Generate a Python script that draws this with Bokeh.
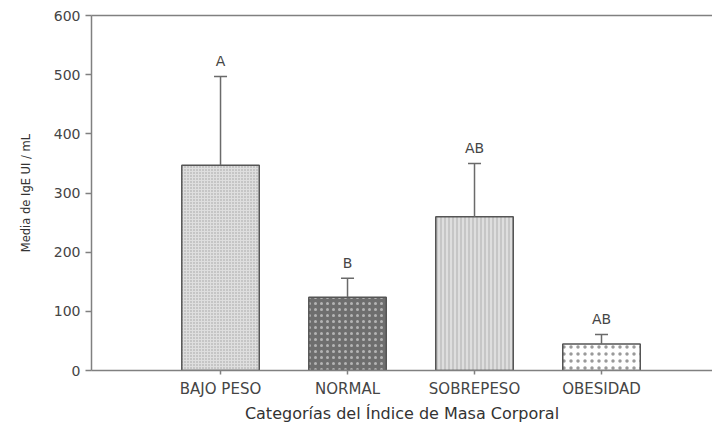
from bokeh.plotting import figure
from bokeh.models import ColumnDataSource, Range1d, Whisker, TeeHead, LinearAxis, FixedTicker
from bokeh.core.properties import value
from bokeh.embed import file_html
from bokeh.resources import INLINE

categories = ["BAJO PESO", "NORMAL", "SOBREPESO", "OBESIDAD"]
means = [347, 124, 260, 45]
errors = [150, 32, 90, 16]
letters = ["A", "B", "AB", "AB"]
y_ticks = [0, 100, 200, 300, 400, 500, 600]

fills = ["#dedede", "#6e6e6e", "#c6c6c6", "#ffffff"]
hatches = [".", ".", "|", "."]
hatch_colors = ["#a0a0a0", "#b4b4b4", "#e6e6e6", "#9a9a9a"]
hatch_scales = [3, 6, 4, 7]
hatch_weights = [1, 2.5, 1.5, 2]

xs = list(range(1, len(categories) + 1))
tops = [m + e for m, e in zip(means, errors)]

src = ColumnDataSource(dict(
    x=xs, top=means, upper=tops, letter=letters,
    fill=fills, hatch=hatches, hcol=hatch_colors, hscale=hatch_scales, hw=hatch_weights,
))

FONT = "DejaVu Sans"
GRAY = "#808080"
TXT = "#454545"

p = figure(width=712, height=425, output_backend="svg", toolbar_location=None,
           x_range=Range1d(-0.016, 4.874), y_range=Range1d(0, 600),
           min_border_left=91, min_border_right=0, min_border_top=15, min_border_bottom=54)
p.outline_line_color = None
p.xgrid.visible = False
p.ygrid.visible = False
p.background_fill_color = "white"
p.border_fill_color = "white"

p.vbar(x="x", top="top", bottom=0, width=0.61, source=src,
       fill_color="fill", line_color="#555555", line_width=1.5,
       hatch_pattern="hatch", hatch_color="hcol", hatch_scale="hscale", hatch_weight="hw")

wh = Whisker(base="x", lower="top", upper="upper", source=src,
             line_color="#6a6a6a", line_width=1.5, level="overlay",
             upper_head=TeeHead(size=13, line_color="#6a6a6a", line_width=1.5),
             lower_head=None)
p.add_layout(wh)

p.text(x="x", y="upper", text="letter", source=src, y_offset=-7,
       text_align="center", text_baseline="bottom",
       text_font=value(FONT), text_font_size="14px", text_color=TXT)

# x axis
xa = p.xaxis[0]
xa.ticker = FixedTicker(ticks=xs)
xa.major_label_overrides = {x: c for x, c in zip(xs, categories)}
xa.minor_tick_line_color = None
xa.major_tick_in = 0
xa.major_tick_out = 4
xa.axis_line_color = GRAY
xa.axis_line_width = 1.5
xa.major_tick_line_color = GRAY
xa.major_tick_line_width = 1.5
xa.major_label_text_font = FONT
xa.major_label_text_font_size = "15px"
xa.major_label_text_color = TXT
xa.major_label_standoff = 5
xa.axis_label = "Categorías del Índice de Masa Corporal"
xa.axis_label_text_font = FONT
xa.axis_label_text_font_size = "16px"
xa.axis_label_text_font_style = "normal"
xa.axis_label_text_color = "#333333"
xa.axis_label_standoff = 3

# y axis
ya = p.yaxis[0]
ya.ticker = FixedTicker(ticks=y_ticks)
ya.minor_tick_line_color = None
ya.major_tick_in = 0
ya.major_tick_out = 6
ya.axis_line_color = GRAY
ya.axis_line_width = 1.5
ya.major_tick_line_color = GRAY
ya.major_tick_line_width = 1.5
ya.major_label_text_font = FONT
ya.major_label_text_font_size = "14px"
ya.major_label_text_color = TXT
ya.major_label_standoff = 5
ya.axis_label = "Media de IgE UI / mL"
ya.axis_label_text_font = FONT
ya.axis_label_text_font_size = "11.5px"
ya.axis_label_text_font_style = "normal"
ya.axis_label_text_color = "#333333"
ya.axis_label_standoff = 18

# top border line
top_axis = LinearAxis(ticker=FixedTicker(ticks=[]), axis_line_color=GRAY, axis_line_width=1.5,
                      major_label_text_color=None, major_tick_line_color=None,
                      minor_tick_line_color=None)
p.add_layout(top_axis, "above")

open("out.html", "w").write(file_html(p, INLINE))
